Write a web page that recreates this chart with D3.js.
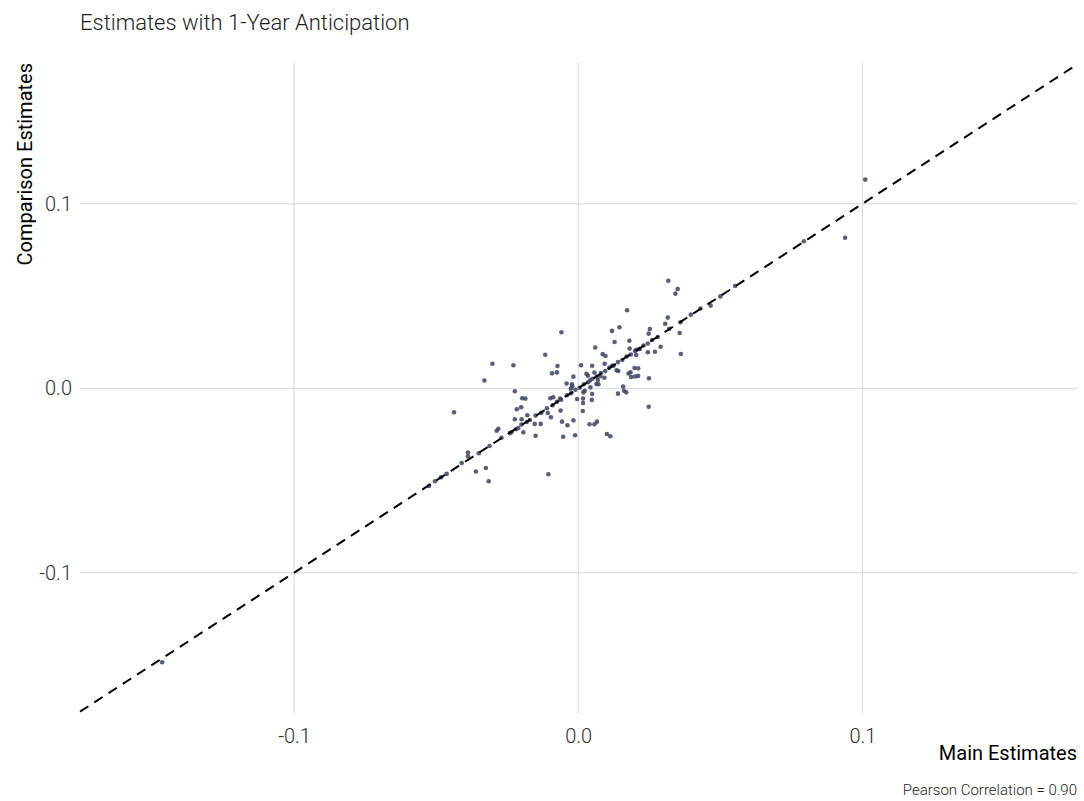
<!DOCTYPE html>
<html>
<head>
<meta charset="utf-8">
<script src="https://cdn.jsdelivr.net/npm/d3@7"></script>
<style>
  body { margin: 0; background: #fff; }
  text { font-family: Roboto, "Noto Sans", sans-serif; }
</style>
</head>
<body>
<div id="chart"></div>
<script>
// main estimate (x) vs comparison estimate (y)
const mainEst = [
  -0.1464, 0.1010, 0.0939, 0.0794, 0.0552, 0.0466, 0.0396, 0.0317, 0.0350, 0.0342,
  0.0172, 0.0315, 0.0306, 0.0357, 0.0361, 0.0119, 0.0145, 0.0252, 0.0248, -0.0059,
  0.0128, 0.0180, 0.0060, 0.0290, 0.0270, 0.0245, 0.0204, 0.0216, 0.0204, 0.0086,
  0.0096, -0.0116, -0.0302, -0.0228, -0.0073, -0.0075, -0.0092, 0.0010, 0.0049, 0.0093,
  0.0119, 0.0135, 0.0141, 0.0177, 0.0184, 0.0198, 0.0211, 0.0186, 0.0200, 0.0211,
  0.0249, -0.0330, -0.0017, 0.0057, 0.0029, 0.0034, 0.0078, 0.0092, 0.0069, 0.0064,
  0.0071, -0.0041, -0.0022, -0.0021, 0.0042, 0.0043, 0.0023, 0.0018, 0.0158, 0.0161,
  0.0140, 0.0169, -0.0026, -0.0223, -0.0197, -0.0186, -0.0098, -0.0088, -0.0064, -0.0004,
  0.0017, 0.0017, 0.0016, 0.0048, 0.0049, -0.0201, -0.0216, -0.0437, -0.0062, 0.0248,
  -0.0179, -0.0107, -0.0096, -0.0223, -0.0199, -0.0181, -0.0057, -0.0017, -0.0038, -0.0153,
  -0.0132, 0.0040, 0.0057, 0.0066, -0.0281, -0.0287, -0.0219, -0.0211, -0.0193, -0.0235,
  -0.0150, -0.0053, -0.0011, 0.0101, 0.0113, -0.0312, -0.0388, -0.0388, -0.0325, -0.0360,
  -0.0463, -0.0483, -0.0504, -0.0525, -0.0105, -0.0315, 0.0181,
  // units whose two estimates almost coincide
  -0.0410, -0.0350, -0.0270, -0.0240, -0.0200, -0.0170, -0.0150, -0.0130, -0.0110, -0.0090,
  -0.0075, -0.0060, -0.0040, -0.0025, -0.0010, 0.0005, 0.0020, 0.0035, 0.0050, 0.0065,
  0.0080, 0.0095, 0.0110, 0.0125, 0.0140, 0.0155, 0.0170, 0.0185, 0.0200, 0.0215,
  0.0230, 0.0245, 0.0260, 0.0280, 0.0320, 0.0360, 0.0430, 0.0500
];
const compEst = [
  -0.1485, 0.1131, 0.0816, 0.0797, 0.0554, 0.0448, 0.0399, 0.0583, 0.0538, 0.0513,
  0.0423, 0.0383, 0.0350, 0.0300, 0.0186, 0.0311, 0.0331, 0.0321, 0.0296, 0.0304,
  0.0251, 0.0258, 0.0221, 0.0225, 0.0198, 0.0195, 0.0208, 0.0213, 0.0180, 0.0185,
  0.0175, 0.0182, 0.0133, 0.0125, 0.0121, 0.0086, 0.0081, 0.0125, 0.0122, 0.0133,
  0.0122, 0.0098, 0.0094, 0.0080, 0.0087, 0.0110, 0.0108, 0.0061, 0.0064, 0.0067,
  0.0054, 0.0042, 0.0063, 0.0085, 0.0079, 0.0068, 0.0065, 0.0057, 0.0045, 0.0023,
  0.0022, 0.0026, 0.0021, 0.0009, 0.0043, 0.0005, -0.0013, -0.0022, 0.0009, -0.0013,
  -0.0029, -0.0022, -0.0002, -0.0016, -0.0054, -0.0056, -0.0054, -0.0049, -0.0056, -0.0058,
  -0.0056, -0.0080, -0.0123, -0.0063, -0.0031, -0.0103, -0.0114, -0.0130, -0.0121, -0.0100,
  -0.0146, -0.0134, -0.0157, -0.0168, -0.0168, -0.0183, -0.0181, -0.0173, -0.0200, -0.0193,
  -0.0193, -0.0195, -0.0195, -0.0181, -0.0219, -0.0230, -0.0222, -0.0215, -0.0238, -0.0238,
  -0.0257, -0.0263, -0.0255, -0.0248, -0.0260, -0.0313, -0.0348, -0.0369, -0.0432, -0.0451,
  -0.0464, -0.0482, -0.0504, -0.0530, -0.0466, -0.0504, 0.0215,
  -0.0405, -0.0352, -0.0268, -0.0243, -0.0197, -0.0172, -0.0148, -0.0133, -0.0108, -0.0092,
  -0.0073, -0.0062, -0.0038, -0.0027, -0.0008, 0.0003, 0.0022, 0.0033, 0.0052, 0.0063,
  0.0082, 0.0093, 0.0112, 0.0123, 0.0142, 0.0153, 0.0172, 0.0183, 0.0202, 0.0213,
  0.0232, 0.0243, 0.0262, 0.0278, 0.0322, 0.0358, 0.0432, 0.0498
];
const xTicks = [-0.1, 0.0, 0.1];
const yTicks = [-0.1, 0.0, 0.1];
const xLimits = [-0.1753, 0.1755];
const yLimits = [-0.1760, 0.1763];

const titleText = "Estimates with 1-Year Anticipation";
const xTitle = "Main Estimates";
const yTitle = "Comparison Estimates";
const caption = "Pearson Correlation = 0.90";

const points = mainEst.map((d, i) => ({ x: d, y: compEst[i] }));

const W = 1084, H = 801;
const margin = { top: 63, right: 7, bottom: 88, left: 80 };
const width = W - margin.left - margin.right;
const height = H - margin.top - margin.bottom;

const svg = d3.select("#chart").append("svg")
    .attr("width", W)
    .attr("height", H);

const g = svg.append("g")
    .attr("transform", "translate(" + margin.left + "," + margin.top + ")");

const x = d3.scaleLinear().domain(xLimits).range([0, width]);
const y = d3.scaleLinear().domain(yLimits).range([height, 0]);

// plain hyphen for negatives, like the original
const fmt = d => d3.format(".1f")(d).replace("\u2212", "-");

// gridlines
g.append("g")
    .attr("class", "grid")
    .selectAll("line.v")
    .data(xTicks)
    .enter().append("line")
    .attr("x1", d => x(d)).attr("x2", d => x(d))
    .attr("y1", 0).attr("y2", height)
    .style("stroke", "#d6d6d6")
    .style("stroke-width", 1);

g.append("g")
    .attr("class", "grid")
    .selectAll("line.h")
    .data(yTicks)
    .enter().append("line")
    .attr("x1", 0).attr("x2", width)
    .attr("y1", d => y(d)).attr("y2", d => y(d))
    .style("stroke", "#d6d6d6")
    .style("stroke-width", 1);

// axes (labels only)
const xAxis = g.append("g")
    .attr("transform", "translate(0," + height + ")")
    .call(d3.axisBottom(x).tickValues(xTicks).tickFormat(fmt).tickSize(0).tickPadding(16));
const yAxis = g.append("g")
    .call(d3.axisLeft(y).tickValues(yTicks).tickFormat(fmt).tickSize(0).tickPadding(8));
[xAxis, yAxis].forEach(a => {
    a.select(".domain").remove();
    a.selectAll("text")
        .style("font-family", "Roboto, sans-serif")
        .style("font-size", "20px")
        .style("font-weight", 300)
        .style("fill", "#2e2e2e");
});

// points
g.selectAll(".dot")
    .data(points)
    .enter().append("circle")
    .attr("class", "dot")
    .attr("r", 2.3)
    .attr("cx", d => x(d.x))
    .attr("cy", d => y(d.y))
    .style("fill", "#3c4360")
    .style("fill-opacity", 0.85);

// 45 degree line
g.append("line")
    .attr("x1", x(xLimits[0])).attr("y1", y(xLimits[0]))
    .attr("x2", x(xLimits[1])).attr("y2", y(xLimits[1]))
    .style("stroke", "#000")
    .style("stroke-width", 2)
    .style("stroke-dasharray", "10,7");

// title, axis titles, caption
svg.append("text")
    .attr("x", 80).attr("y", 30)
    .style("font-size", "22px")
    .style("font-weight", 300)
    .style("fill", "#1e1e1e")
    .text(titleText);

svg.append("text")
    .attr("x", W - margin.right).attr("y", 760)
    .style("text-anchor", "end")
    .style("font-size", "20px")
    .style("fill", "#000")
    .text(xTitle);

svg.append("text")
    .attr("transform", "translate(32," + margin.top + ") rotate(-90)")
    .style("text-anchor", "end")
    .style("font-size", "20px")
    .style("fill", "#000")
    .text(yTitle);

svg.append("text")
    .attr("x", W - margin.right).attr("y", 795)
    .style("text-anchor", "end")
    .style("font-size", "15px")
    .style("font-weight", 300)
    .style("fill", "#1e1e1e")
    .text(caption);
</script>
</body>
</html>
